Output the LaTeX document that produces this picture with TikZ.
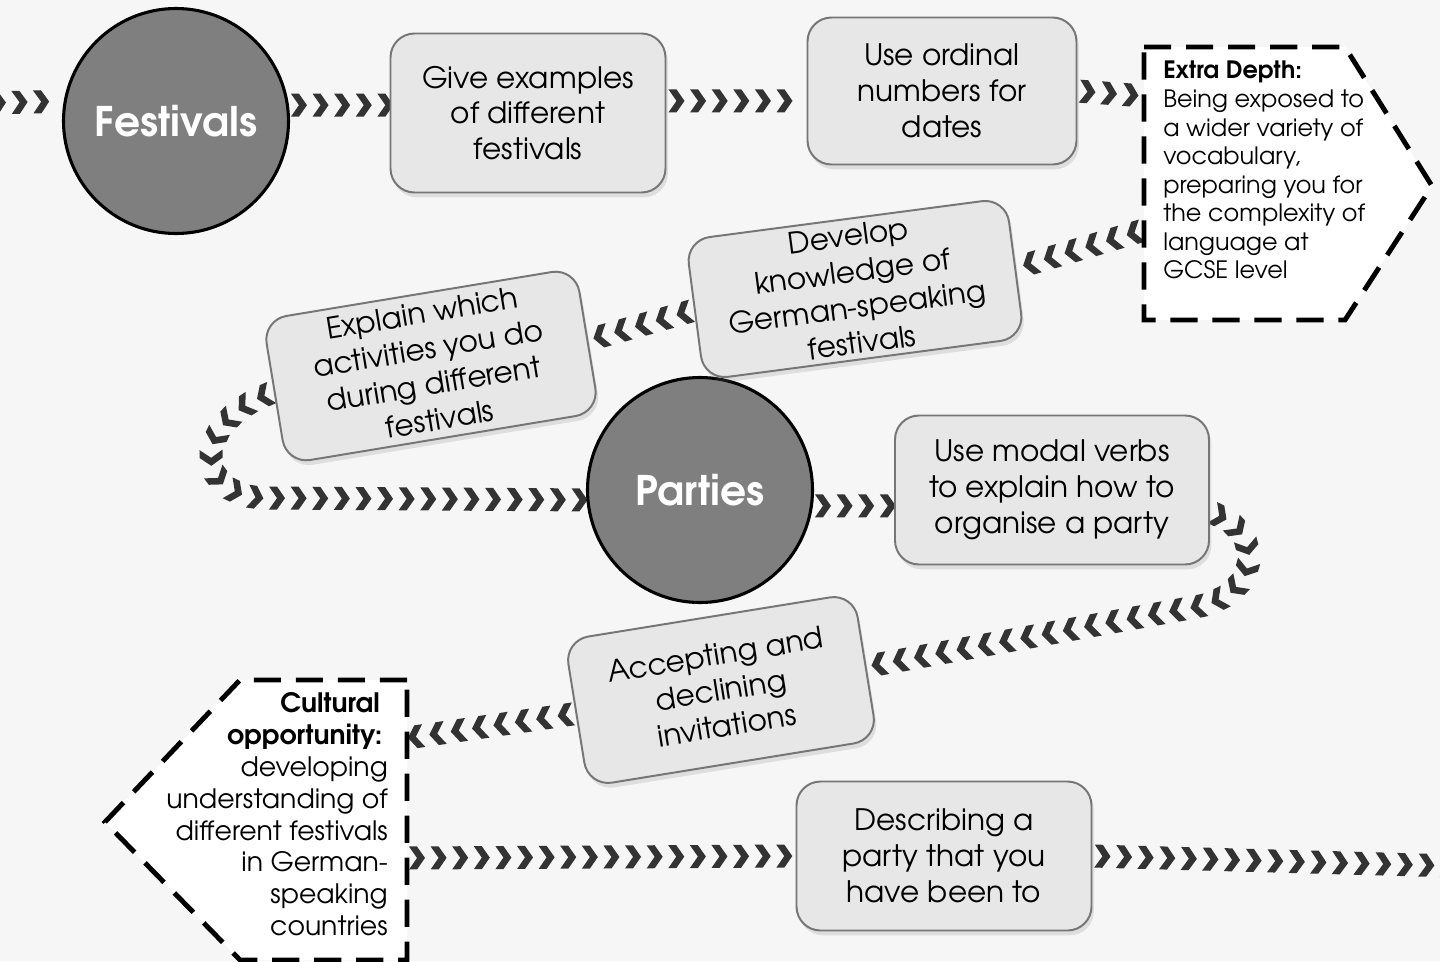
\documentclass[tikz,border=0pt]{standalone}
\usepackage{fontspec}
\setmainfont{TeX Gyre Adventor}
\usetikzlibrary{decorations.markings,shadows,backgrounds}
\definecolor{boxFill}{HTML}{E7E7E7}
\definecolor{boxLine}{HTML}{767676}
\definecolor{hubFill}{HTML}{7F7F7F}
\definecolor{chevFill}{HTML}{333333}
\definecolor{pageFill}{HTML}{F6F6F6}
\def\pxu{0.025cm}
\def\borderW{1.4pt}
\tikzset
{
  StepBox/.style=
  {
    draw=boxLine,
    fill=boxFill,
    line width=\borderW,
    rounded corners=0.6cm,
    align=center,
    font=\fontsize{21}{25.5}\selectfont,
    drop shadow={shadow xshift=0.06cm, shadow yshift=-0.12cm, opacity=0.2},
  },
  Hub/.style=
  {
    circle,
    draw=black,
    fill=hubFill,
    line width=2.2pt,
    minimum size=225*\pxu,
    text=white,
    font=\fontsize{29}{34}\selectfont\bfseries,
  },
  Chevrons/.style=
  {
    decorate,
    decoration={markings,
      mark=between positions 0.25cm and -0.05cm step 0.54cm with
      {\fill[chevFill] (-8,-11.5) -- (0,-11.5) -- (8,0) -- (0,11.5) -- (-8,11.5) -- (0,0) -- cycle;}},
  },
  Note/.style=
  {
    draw=black,
    fill=white,
    line width=3.5pt,
    dash pattern=on 0.68cm off 0.37cm,
  }
}

\begin{document}
\begin{tikzpicture}
[
  x=\pxu, y=-\pxu, % one unit is one pixel of the layout, y grows downwards
]
\useasboundingbox (0,0) rectangle (1440,961);

% topics
\node (fest) [Hub] at (176,121) {Festivals};
\node (parties) [Hub] at (700,490) {Parties};

% steps
\node (give) [StepBox, minimum width=275*\pxu, minimum height=159*\pxu] at (528,113)
  {Give examples\\of different\\festivals};
\node (ordinal) [StepBox, minimum width=269*\pxu, minimum height=147*\pxu] at (942,91)
  {Use ordinal\\numbers for\\dates};
\node (develop) [StepBox, rotate=7.5, minimum width=323*\pxu, minimum height=141*\pxu] at (855,289)
  {Develop\\knowledge of\\German-speaking\\festivals};
\node (explain) [StepBox, rotate=9.4, minimum width=317*\pxu, minimum height=146*\pxu] at (431,366)
  {Explain which\\activities you do\\during different\\festivals};
\node (modal) [StepBox, minimum width=314*\pxu, minimum height=149*\pxu] at (1052,490)
  {Use modal verbs\\to explain how to\\organise a party};
\node (accept) [StepBox, rotate=9.2, minimum width=293*\pxu, minimum height=148*\pxu] at (721,690)
  {Accepting and\\declining\\invitations};
\node (descr) [StepBox, minimum width=295*\pxu, minimum height=149*\pxu] at (944,856)
  {Describing a\\party that you\\have been to};

% extra depth
\draw [Note] (1144,47) -- (1345,47) -- (1432,186) -- (1345,320) -- (1144,320) -- cycle;
\node (extraText) [anchor=north west, align=left, inner sep=0pt, font=\fontsize{17}{20.3}\selectfont] at (1163,61)
  {\textbf{Extra Depth:}\\Being exposed to\\a wider variety of\\vocabulary,\\preparing you for\\the complexity of\\language at\\GCSE level};
\coordinate (extraIn) at (1144,96);
\coordinate (extraOut) at (1144,230);

% cultural opportunity
\draw [Note] (407,680) -- (240,680) -- (105,822) -- (240,960) -- (407,960) -- cycle;
\node (cultText) [anchor=north east, align=right, inner sep=0pt, font=\fontsize{19}{22.7}\selectfont] at (388,692)
  {\textbf{Cultural}\kern0.3em\\\textbf{opportunity:}\kern0.2em\\developing\\understanding of\\different festivals\\in German-\\speaking\\countries};
\coordinate (cultIn) at (407,738);
\coordinate (cultOut) at (407,858);

\coordinate (entry) at (-12,103);
\coordinate (exit) at (1455,866);

\begin{pgfonlayer}{background}
  \fill [pageFill] (0,0) rectangle (1440,961);
  \path [Chevrons] (entry) -- (fest.170);
  \path [Chevrons] (fest.8) -- (fest.8 -| give.west);
  \path [Chevrons] (give.5) -- (give.5 -| ordinal.west);
  \path [Chevrons] (ordinal.east) -- (extraIn);
  \path [Chevrons] (extraOut) -- (develop.east);
  \path [Chevrons] (develop.west) -- (explain.east);
  \path [Chevrons] (explain.west) .. controls (195,420) and (190,492) .. (262,498) -- (parties.185);
  \path [Chevrons] (parties.-8) -- (parties.-8 -| modal.west);
  \path [Chevrons] (modal.-8) .. controls (1265,530) and (1262,595) .. (1195,607) -- (accept.east);
  \path [Chevrons] (accept.west) -- (cultIn);
  \path [Chevrons] (cultOut) -- (descr.west);
  \path [Chevrons] (descr.east) -- (exit);
\end{pgfonlayer}
\end{tikzpicture}
\end{document}
